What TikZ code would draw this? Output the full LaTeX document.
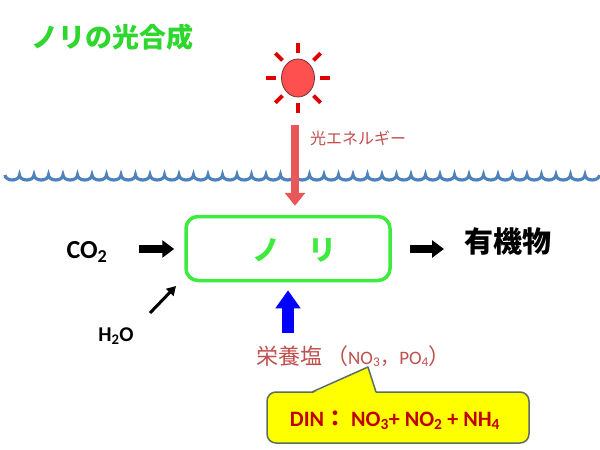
\documentclass[tikz,border=0pt]{standalone}
\usepackage{fontspec}
\setmainfont{Carlito}
\newfontfamily\jp{Noto Sans CJK JP}
\usetikzlibrary{arrows.meta,shapes.geometric,calc}
\definecolor{titlegreen}{RGB}{45,215,45}
\definecolor{boxgreen}{RGB}{60,235,60}
\definecolor{wavecol}{RGB}{79,129,189}
\definecolor{sunfill}{RGB}{255,80,80}
\definecolor{raycol}{RGB}{225,0,0}
\definecolor{lightcol}{RGB}{232,88,88}
\definecolor{nutcol}{RGB}{192,80,77}
\definecolor{dincol}{RGB}{192,0,0}
\definecolor{calloutfill}{RGB}{255,255,0}
\definecolor{calloutline}{RGB}{90,110,100}
\tikzset{
  blk/.style={line width=8, -{Triangle[width=17,length=12]}},
  thinarr/.style={line width=3, -{Triangle[width=10,length=9]}},
}
\begin{document}
\begin{tikzpicture}[x=1pt,y=-1pt]
\fill[white] (0,0) rectangle (600,450);
\useasboundingbox (0,0) rectangle (600,450);
% title
\node[text=titlegreen, font=\jp\fontsize{27}{27}\selectfont\bfseries] (title) at (112,37) {ノリの光合成};
% wave
\draw[wavecol, line width=3.2] (5,175)
  \foreach \i in {1,...,41} { arc[start angle=180, end angle=0, x radius=7.25, y radius=5] };
% sun
\node[draw={rgb,255:red,120;green,50;blue,50}, line width=0.8, fill=sunfill, ellipse,
      minimum width=33, minimum height=38, inner sep=0] (sun) at (298,78) {};
\begin{scope}[shift={(sun.center)}]
  \foreach \a in {0,45,...,315}
    \draw[raycol, line width=4] (\a:22 and 25) -- (\a:32 and 35);
\end{scope}
% seaweed box
\node[draw=boxgreen, line width=3.5, rounded corners=12, minimum width=204,
      minimum height=64, inner sep=0] (box) at (288,248.5) {};
\node[text=boxgreen, font=\jp\fontsize{28}{28}\selectfont\bfseries] (nori) at (294,250) {ノ　リ};
% light energy arrow
\coordinate (lighttop) at (295,125);
\draw[lightcol, line width=8, -{Triangle[width=20,length=13]}]
  (lighttop) -- ([yshift=9pt]lighttop |- box.north);
\node[text=nutcol, font=\jp\fontsize{16}{16}\selectfont, anchor=west, inner sep=0] (light) at (310,138) {光エネルギー};
% CO2
\node[font=\bfseries\fontsize{26}{26}\selectfont] (co2) at (87,252) {CO\textsubscript{2}};
\coordinate (co2s) at (139,249);
\draw[blk] (co2s) -- ([xshift=-10pt]box.west |- co2s);
% H2O
\node[font=\bfseries\fontsize{21}{21}\selectfont] (h2o) at (116,336) {H\textsubscript{2}O};
\coordinate (h2oa) at (150,313);
\coordinate (h2ob) at (176,286);
\draw[thinarr] (h2oa) -- (h2ob);
% output
\node[font=\jp\fontsize{29}{29}\selectfont] (org) at (508,241) {\textbf{有機物}};
\coordinate (oute) at (444,249);
\draw[blk] ([xshift=18pt]box.east |- oute) -- (oute);
% nutrients
\coordinate (nutbot) at (288,333);
\draw[blue, line width=12, -{Triangle[width=24,length=18]}] (nutbot) -- ([yshift=-8pt]nutbot |- box.south);
\node[text=nutcol, anchor=west, inner sep=0] (nut) at (256,356)
  {{\jp\fontsize{22}{22}\selectfont 栄養塩}\hspace{4pt}{\jp\fontsize{22}{22}\selectfont（}{\fontsize{19}{19}\selectfont NO\textsubscript{3}{\jp，}PO\textsubscript{4}}{\jp\fontsize{22}{22}\selectfont）}};
% callout
\filldraw[fill=calloutfill, draw=calloutline, line width=1.5, rounded corners=9]
  (267,392) rectangle (529,443);
\coordinate (tip) at (368,367);
\fill[calloutfill] (312,393.5) -- (tip) -- (376,393.5) -- cycle;
\draw[calloutline, line width=1.5, line join=round] (312,392) -- (tip) -- (376,392);
\node[text=dincol, font=\bfseries\fontsize{22}{22}\selectfont] (din) at (395,420)
  {DIN{\jp：} NO\textsubscript{3}+ NO\textsubscript{2} + NH\textsubscript{4}};
\end{tikzpicture}
\end{document}
